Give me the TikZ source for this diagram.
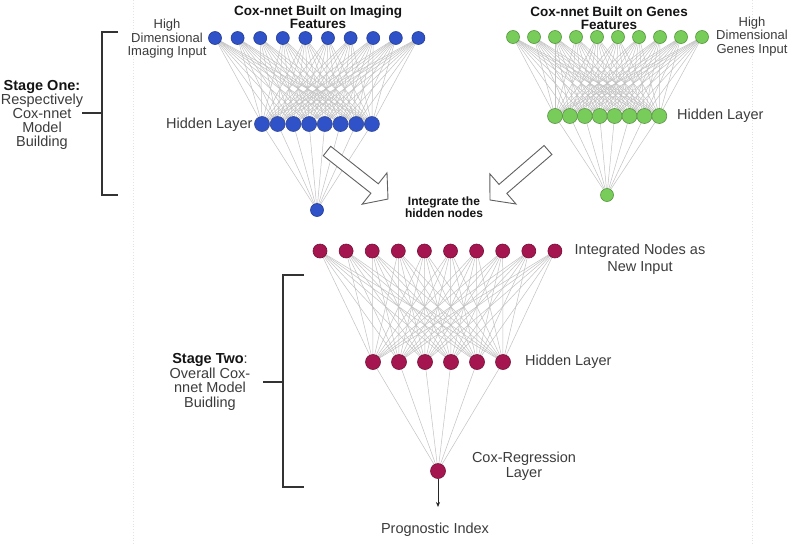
\documentclass[tikz,border=0pt]{standalone}
\usepackage{fontspec}
\setmainfont{Liberation Sans}
\usetikzlibrary{backgrounds,arrows.meta}
\definecolor{imgblue}{RGB}{48,82,200}
\definecolor{imgblueD}{RGB}{35,60,150}
\definecolor{genegreen}{RGB}{120,205,90}
\definecolor{genegreenD}{RGB}{85,150,60}
\definecolor{intred}{RGB}{165,22,80}
\definecolor{intredD}{RGB}{120,15,55}
\definecolor{txt}{RGB}{60,60,60}
\definecolor{ttl}{RGB}{20,20,20}
\tikzset{
  neuron/.style={circle,inner sep=0pt,line width=0.6pt},
  bluen/.style={neuron,fill=imgblue,draw=imgblueD,minimum size=13pt},
  bluehid/.style={neuron,fill=imgblue,draw=imgblueD!80!gray,minimum size=15pt},
  greenn/.style={neuron,fill=genegreen,draw=genegreenD,minimum size=13pt},
  greenhid/.style={neuron,fill=genegreen,draw=genegreenD!80!gray,minimum size=15pt},
  redn/.style={neuron,fill=intred,draw=intredD,minimum size=14pt},
  edge/.style={draw=gray!48,line width=0.5pt},
  lbl/.style={text=txt,font=\fontsize{14.5}{15}\selectfont,inner sep=0pt},
  smlbl/.style={text=txt,font=\fontsize{13}{13.5}\selectfont,inner sep=0pt,align=center},
  ttlbl/.style={text=ttl,font=\fontsize{13.5}{13}\selectfont\bfseries,inner sep=0pt,align=center},
  bracket/.style={draw=black!80,line width=1.2pt},
  hollow/.style={draw=gray!75!black,fill=white,line width=0.9pt,line join=miter},
  border/.style={draw=gray!22,dotted,line width=0.8pt}
}
\begin{document}
\begin{tikzpicture}[x=1pt,y=-1pt]
\useasboundingbox (0,0) rectangle (795,544);

% ---- imaging network ----
\foreach \i in {0,...,9} \node[bluen] (ia\i) at ({215+22.6*\i},38) {};
\foreach \i in {0,...,7} \node[bluehid] (ib\i) at ({262+15.7*\i},124) {};
\node[bluen] (ic) at (317,210) {};
% ---- genes network ----
\foreach \i in {0,...,9} \node[greenn] (ga\i) at ({513+21*\i},37) {};
\foreach \i in {0,...,7} \node[greenhid] (gb\i) at ({555+14.9*\i},116) {};
\node[greenn] (gc) at (607,195) {};
% ---- integrated network ----
\foreach \i in {0,...,9} \node[redn] (na\i) at ({320+26.1*\i},251) {};
\foreach \i in {0,...,5} \node[redn,minimum size=15pt] (nb\i) at ({373+26*\i},362) {};
\node[redn,minimum size=15pt] (nc) at (438,471) {};

\begin{scope}[on background layer]
  \fill[white] (0,0) rectangle (795,544);
  % faint page borders
  \draw[border] (133,0) -- (133,544);
  \draw[border] (752,0) -- (752,544);
  \foreach \i in {0,...,9} \foreach \j in {0,...,7} {
    \draw[edge] (ia\i.center) -- (ib\j.center);
    \draw[edge] (ga\i.center) -- (gb\j.center);
  }
  \foreach \j in {0,...,7} {
    \draw[edge] (ib\j.center) -- (ic.center);
    \draw[edge] (gb\j.center) -- (gc.center);
  }
  \foreach \i in {0,...,9} \foreach \j in {0,...,5}
    \draw[edge] (na\i.center) -- (nb\j.center);
  \foreach \j in {0,...,5} \draw[edge] (nb\j.center) -- (nc.center);
\end{scope}

% output arrow
\coordinate (pend) at (438,507);
\draw[black!85,line width=0.7pt,-{Stealth[length=5pt,width=4pt]}] (nc.south) -- (pend);
\node[lbl] (prog) at (435,530) {Prognostic Index};

% hollow arrows
\draw[hollow] (323.3,155.7) -- (370.9,193.2) -- (362.2,204.2) -- (388,199) -- (387,172.8) -- (378.3,183.8) -- (330.7,146.3) -- cycle;
\draw[hollow] (544.1,145.5) -- (499,184.4) -- (489.8,173.8) -- (490,200) -- (516,204) -- (506.8,193.4) -- (551.9,154.5) -- cycle;

% labels stage one
\node[ttlbl] (timg) at (318,17.5) {Cox-nnet Built on Imaging\\Features};
\node[smlbl] (himg) at (167,39) {High\\Dimensional\\Imaging Input};
\node[lbl,anchor=west] (hlimg) at (166,125) {Hidden Layer};
\node[ttlbl] (tgen) at (609,18.5) {Cox-nnet Built on Genes\\Features};
\node[smlbl] (hgen) at (752,36.5) {High\\Dimensional\\Genes Input};
\node[lbl,anchor=west] (hlgen) at (677,116) {Hidden Layer};
\node[text=ttl,font=\fontsize{12}{12.5}\selectfont\bfseries,inner sep=0pt,align=center] (integ) at (444,207) {Integrate the\\hidden nodes};

% labels stage two
\node[lbl,align=center,font=\fontsize{14.5}{17}\selectfont] (newin) at (640,259.5) {Integrated Nodes as\\New Input};
\node[lbl,anchor=west] (hl2) at (525,362) {Hidden Layer};
\node[lbl,align=center] (coxreg) at (524,466.5) {Cox-Regression\\Layer};

% stage brackets
\draw[bracket] (118,32) -- (102,32) -- (102,195) -- (118,195);
\draw[bracket] (82,113) -- (102,113);
\node[lbl,align=center,font=\fontsize{14.5}{14}\selectfont] (s1) at (42,115) {{\color{ttl}\bfseries Stage One:}\\Respectively\\Cox-nnet\\Model\\Building};

\draw[bracket] (304,275) -- (283,275) -- (283,487) -- (304,487);
\draw[bracket] (263,382) -- (283,382);
\node[lbl,align=center,font=\fontsize{14.5}{14.7}\selectfont] (s2) at (210,382) {{\color{ttl}\bfseries Stage Two}:\\Overall Cox-\\nnet Model\\Buidling};
\end{tikzpicture}
\end{document}
